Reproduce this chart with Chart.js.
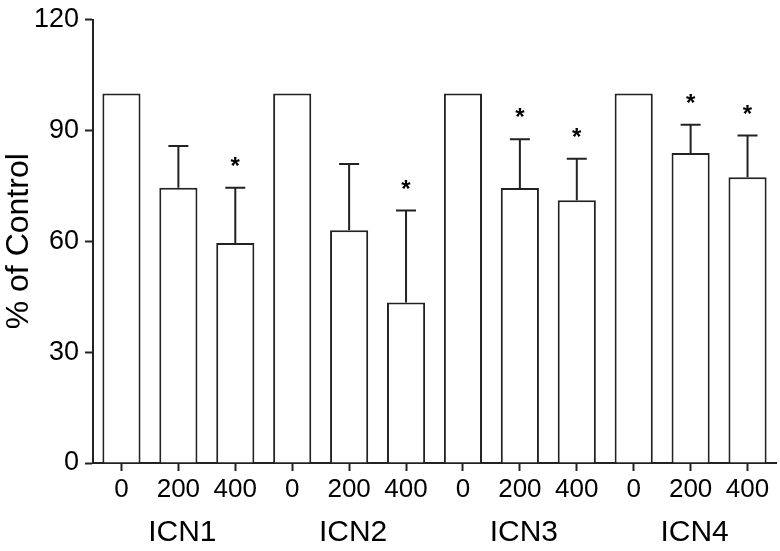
<!DOCTYPE html>
<html>
<head>
<meta charset="utf-8">
<script src="https://cdn.jsdelivr.net/npm/chart.js@4.4.1/dist/chart.umd.min.js"></script>
<style>
  html, body { margin: 0; padding: 0; background: #fff; }
  #wrap { width: 780px; height: 551px; position: relative; }
</style>
</head>
<body>
<div id="wrap"><canvas id="chart"></canvas></div>
<script>
// Dose labels under each bar, one group per compound
const doses = ['0', '200', '400', '0', '200', '400', '0', '200', '400', '0', '200', '400'];
const groups = ['ICN1', 'ICN2', 'ICN3', 'ICN4'];
// % of control (bar height) and upper error
const means = [100, 74.5, 59.5, 100, 63, 43.4, 100, 74.4, 71.1, 100, 83.9, 77.3];
const errors = [0, 11.3, 15, 0, 17.9, 24.9, 0, 13.2, 11.2, 0, 7.6, 11.3];
const significant = [false, false, true, false, false, true, false, true, true, false, true, true];
const yTicks = [0, 30, 60, 90, 120];

const ink = '#222';
const fontFamily = "'Liberation Sans', Arial, Helvetica, sans-serif";

// error bars, asterisks and the group names under the axis
const extras = {
    id: 'extras',
    afterDatasetsDraw(chart) {
        const ctx = chart.ctx;
        const x = chart.scales.x;
        const y = chart.scales.y;
        ctx.save();
        ctx.strokeStyle = ink;
        ctx.fillStyle = '#000';
        ctx.lineWidth = 2;
        means.forEach((m, i) => {
            const cx = x.getPixelForValue(i);
            if (errors[i] > 0) {
                const y0 = y.getPixelForValue(m);
                const y1 = y.getPixelForValue(m + errors[i]);
                ctx.beginPath();
                ctx.moveTo(cx, y0);
                ctx.lineTo(cx, y1);
                ctx.moveTo(cx - 10, y1);
                ctx.lineTo(cx + 10, y1);
                ctx.stroke();
            }
            if (significant[i]) {
                const top = y.getPixelForValue(m + errors[i]);
                ctx.font = 'bold 24px ' + fontFamily;
                ctx.textAlign = 'center';
                ctx.textBaseline = 'alphabetic';
                ctx.fillText('*', cx, top - 27 + 13);
            }
        });
        // group labels centred under the middle dose of each group
        ctx.font = '30px ' + fontFamily;
        ctx.textAlign = 'center';
        ctx.textBaseline = 'middle';
        groups.forEach((g, gi) => {
            const cx = x.getPixelForValue(gi * 3 + 1);
            ctx.fillText(g, cx + 4, 533);
        });
        ctx.restore();
    }
};

new Chart(document.getElementById('chart'), {
    type: 'bar',
    data: {
        labels: doses,
        datasets: [{
            data: means,
            backgroundColor: '#fff',
            borderColor: ink,
            borderWidth: 2,
            barPercentage: 0.67,
            categoryPercentage: 1.0
        }]
    },
    options: {
        responsive: true,
        maintainAspectRatio: false,
        animation: false,
        layout: { padding: { top: 19, right: 4, left: 0, bottom: 0 } },
        plugins: {
            legend: { display: false },
            tooltip: { enabled: false }
        },
        scales: {
            x: {
                afterFit: (scale) => { scale.height = 88; },
                grid: {
                    offset: false,
                    drawOnChartArea: false,
                    tickLength: 8,
                    tickWidth: 2,
                    color: ink
                },
                border: { color: ink, width: 2 },
                ticks: {
                    color: '#000',
                    padding: 3,
                    maxRotation: 0,
                    autoSkip: false,
                    font: { family: fontFamily, size: 26 }
                }
            },
            y: {
                min: 0,
                max: 120,
                afterFit: (scale) => { scale.width = 93; },
                afterBuildTicks: (scale) => { scale.ticks = yTicks.map(v => ({ value: v })); },
                grid: {
                    drawOnChartArea: false,
                    tickLength: 8,
                    tickWidth: 2,
                    color: ink
                },
                border: { color: ink, width: 2 },
                ticks: {
                    color: '#000',
                    padding: 6,
                    font: { family: fontFamily, size: 27, lineHeight: 1.0 }
                },
                title: {
                    display: true,
                    text: '% of Control',
                    color: '#000',
                    padding: { top: 0, bottom: 0 },
                    font: { family: fontFamily, size: 32 }
                }
            }
        }
    },
    plugins: [extras]
});
</script>
</body>
</html>
